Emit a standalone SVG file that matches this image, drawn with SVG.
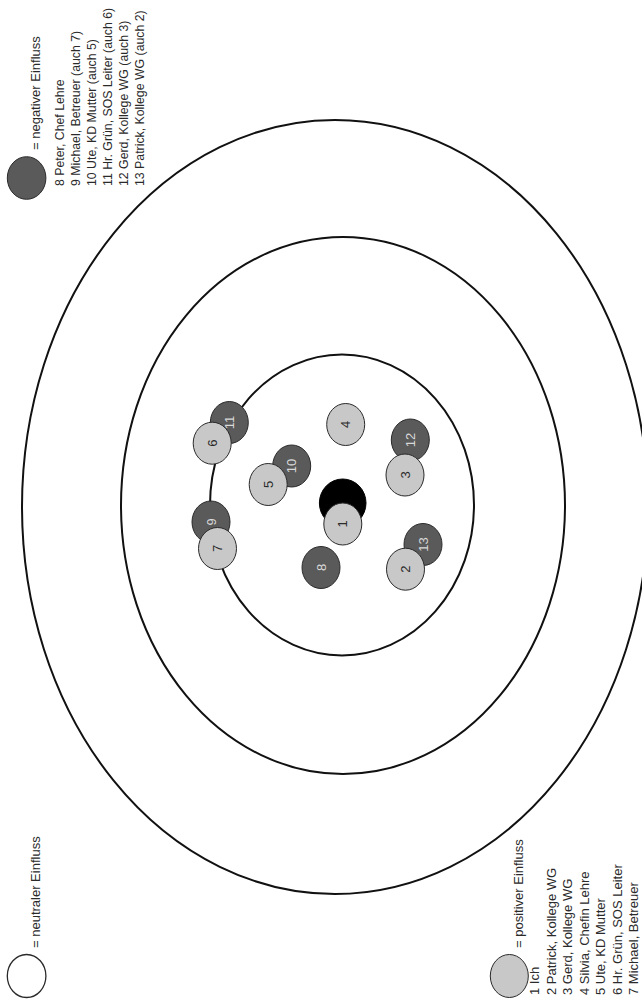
<svg xmlns="http://www.w3.org/2000/svg" width="642" height="999" viewBox="0 0 642 999">
<style>
  .ring { fill: none; stroke: #111; stroke-width: 2; }
  .neg { fill: #5a5a5a; stroke: #2a2a2a; stroke-width: 1; }
  .pos { fill: #c8c8c8; stroke: #2a2a2a; stroke-width: 1; }
  .neu { fill: #ffffff; stroke: #2a2a2a; stroke-width: 1.3; }
  .me { fill: #000000; stroke: #000; stroke-width: 1; }
  .lbl { font-family: "Liberation Sans", Arial, sans-serif; font-size: 13px; fill: #2a2a2a; }
  .sm { font-size: 12.3px; }
  .nl { font-family: "Liberation Sans", Arial, sans-serif; font-size: 13px; text-anchor: middle; }
  .nl-d { fill: #d8d8d8; }
  .nl-l { fill: #2a2a2a; }
</style>
<rect x="0" y="0" width="642" height="999" fill="#ffffff"/>

<g id="rings">
  <ellipse class="ring" cx="335" cy="507" rx="313" ry="387"/>
  <ellipse class="ring" cx="343" cy="505.5" rx="222" ry="268.5"/>
  <ellipse class="ring" cx="342" cy="505" rx="132" ry="150.5"/>
</g>

<g id="legend-negative">
  <ellipse class="neg" cx="26.6" cy="178" rx="19.3" ry="21.3"/>
  <text class="lbl" transform="translate(40,150) rotate(-90)">= negativer Einfluss</text>
  <text class="lbl sm" transform="translate(64,186) rotate(-90)">8 Peter, Chef Lehre</text>
  <text class="lbl sm" transform="translate(80,186) rotate(-90)">9 Michael, Betreuer (auch 7)</text>
  <text class="lbl sm" transform="translate(96,186) rotate(-90)">10 Ute, KD Mutter (auch 5)</text>
  <text class="lbl sm" transform="translate(112,186) rotate(-90)">11 Hr. Grün, SOS Leiter (auch 6)</text>
  <text class="lbl sm" transform="translate(128,186) rotate(-90)">12 Gerd, Kollege WG (auch 3)</text>
  <text class="lbl sm" transform="translate(144,186) rotate(-90)">13 Patrick, Kollege WG (auch 2)</text>
</g>

<g id="legend-neutral">
  <ellipse class="neu" cx="26.6" cy="976" rx="19.3" ry="21.5"/>
  <text class="lbl" transform="translate(40,948) rotate(-90)">= neutraler Einfluss</text>
</g>

<g id="legend-positive">
  <ellipse class="pos" cx="509.3" cy="976" rx="19" ry="21.5"/>
  <text class="lbl" transform="translate(523,948) rotate(-90)">= positiver Einfluss</text>
  <text class="lbl" transform="translate(539,995) rotate(-90)">1 Ich</text>
  <text class="lbl" transform="translate(555.5,995) rotate(-90)">2 Patrick, Kollege WG</text>
  <text class="lbl" transform="translate(572,995) rotate(-90)">3 Gerd, Kollege WG</text>
  <text class="lbl" transform="translate(588.5,995) rotate(-90)">4 Silvia, Chefin Lehre</text>
  <text class="lbl" transform="translate(605,995) rotate(-90)">5 Ute, KD Mutter</text>
  <text class="lbl" transform="translate(621.5,995) rotate(-90)">6 Hr. Grün, SOS Leiter</text>
  <text class="lbl" transform="translate(638,995) rotate(-90)">7 Michael, Betreuer</text>
</g>

<g id="node-me-black">
  <ellipse class="me" cx="342.7" cy="503" rx="23.3" ry="24"/>
</g>

<g id="node-11">
  <ellipse class="neg" cx="229.3" cy="422.5" rx="19" ry="21"/>
  <text class="nl nl-d" transform="translate(229.3,422.5) rotate(-90)" dy="0.35em">11</text>
</g>
<g id="node-10">
  <ellipse class="neg" cx="291.7" cy="466" rx="19" ry="21"/>
  <text class="nl nl-d" transform="translate(291.7,466) rotate(-90)" dy="0.35em">10</text>
</g>
<g id="node-9">
  <ellipse class="neg" cx="211" cy="522" rx="19" ry="21"/>
  <text class="nl nl-d" transform="translate(211,522) rotate(-90)" dy="0.35em">9</text>
</g>
<g id="node-8">
  <ellipse class="neg" cx="321" cy="567.5" rx="19" ry="21"/>
  <text class="nl nl-d" transform="translate(321,567.5) rotate(-90)" dy="0.35em">8</text>
</g>
<g id="node-12">
  <ellipse class="neg" cx="410.3" cy="440" rx="19" ry="21"/>
  <text class="nl nl-d" transform="translate(410.3,440) rotate(-90)" dy="0.35em">12</text>
</g>
<g id="node-13">
  <ellipse class="neg" cx="423" cy="544.5" rx="19" ry="21"/>
  <text class="nl nl-d" transform="translate(423,544.5) rotate(-90)" dy="0.35em">13</text>
</g>

<g id="node-6">
  <ellipse class="pos" cx="212.2" cy="443.2" rx="19" ry="21"/>
  <text class="nl nl-l" transform="translate(212.2,443.2) rotate(-90)" dy="0.35em">6</text>
</g>
<g id="node-5">
  <ellipse class="pos" cx="268.2" cy="484.5" rx="19" ry="21"/>
  <text class="nl nl-l" transform="translate(268.2,484.5) rotate(-90)" dy="0.35em">5</text>
</g>
<g id="node-7">
  <ellipse class="pos" cx="217.5" cy="548.5" rx="19" ry="21"/>
  <text class="nl nl-l" transform="translate(217.5,548.5) rotate(-90)" dy="0.35em">7</text>
</g>
<g id="node-4">
  <ellipse class="pos" cx="345.7" cy="424.5" rx="19" ry="21"/>
  <text class="nl nl-l" transform="translate(345.7,424.5) rotate(-90)" dy="0.35em">4</text>
</g>
<g id="node-3">
  <ellipse class="pos" cx="405" cy="475" rx="19" ry="21"/>
  <text class="nl nl-l" transform="translate(405,475) rotate(-90)" dy="0.35em">3</text>
</g>
<g id="node-2">
  <ellipse class="pos" cx="405.5" cy="569.2" rx="19" ry="21"/>
  <text class="nl nl-l" transform="translate(405.5,569.2) rotate(-90)" dy="0.35em">2</text>
</g>
<g id="node-1">
  <ellipse class="pos" cx="342.8" cy="524" rx="19" ry="21"/>
  <text class="nl nl-l" transform="translate(342.8,524) rotate(-90)" dy="0.35em">1</text>
</g>
</svg>
